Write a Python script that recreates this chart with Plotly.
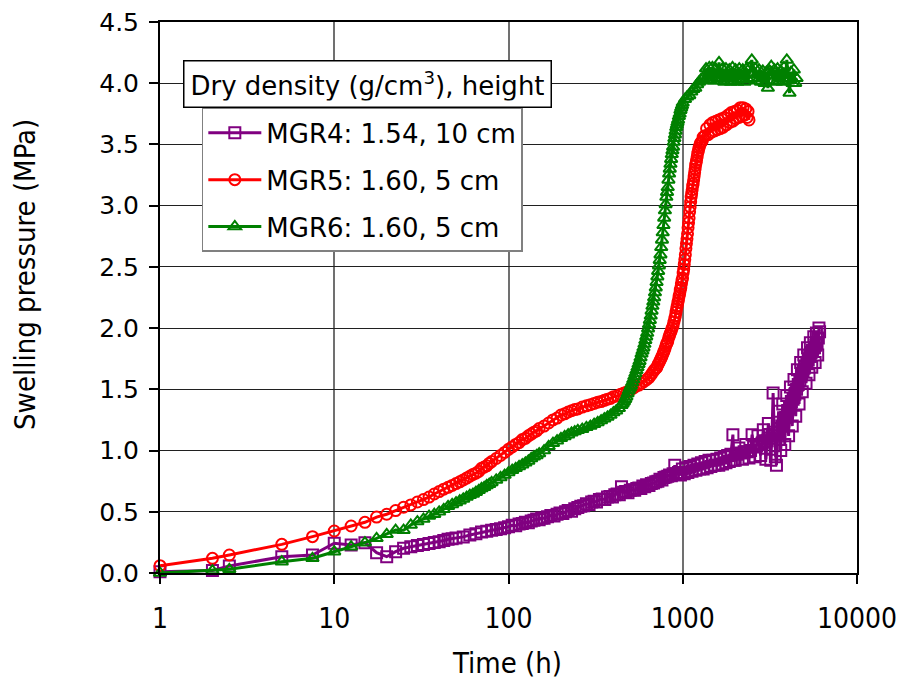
import plotly.graph_objects as go

# MGR4: dry density 1.54 g/cm3, 10 cm sample
mgr4_time = [1, 2, 2.5, 5, 7.5, 10, 12.5, 15, 17.5, 20, 22.5, 25, 27.5, 30, 32.5, 35, 37.5, 40, 42.5, 45,
             47.5, 50, 55, 60, 65, 70, 75, 80, 85, 90, 95,
             100, 105, 110, 115, 120, 125, 130, 135, 140, 145, 150, 155, 160, 167.5, 175, 182.5, 190, 197.5, 205, 212.5,
             220, 230, 240, 250, 260, 270, 280, 290, 300, 310, 320, 332.5, 345, 357.5, 370, 382.5, 395, 407.5, 420, 432.5,
             445, 457.5, 470, 485, 500, 515, 530, 545, 560, 575, 590, 605, 620, 640, 660, 680, 700, 720, 740, 760,
             780, 800, 820, 840, 860, 880, 900, 920, 945,
             970, 995, 1020, 1045, 1070, 1100, 1130, 1160, 1190, 1220, 1250, 1280, 1310, 1345, 1380, 1415, 1450, 1490, 1530, 1570,
             1610, 1650, 1690, 1730, 1770, 1810, 1850, 1890, 1940, 1960,
             2000, 2050, 2100, 2150, 2200, 2250, 2300, 2350, 2400, 2450, 2500, 2550, 2600, 2650, 2700, 2750, 2800, 2850, 2900, 2950,
             3000, 3050, 3100, 3150, 3200, 3250, 3300, 3350, 3400, 3450, 3500, 3550, 3600, 3650, 3700, 3750, 3800, 3850, 3900, 3950,
             4000, 4050, 4100, 4150, 4200, 4250, 4300, 4350, 4400, 4450, 4500, 4550, 4600, 4650, 4700, 4750, 4800, 4850, 4900, 4950,
             5000, 5100, 5150, 5200, 5250, 5300, 5350, 5400, 5450, 5500, 5550, 5650, 5700, 5750, 5800, 5850, 5900, 5950, 6000, 6050,
             6100]
mgr4_pressure = [0.01, 0.02, 0.057, 0.133, 0.147, 0.243, 0.229, 0.248, 0.166, 0.133, 0.174, 0.202, 0.215, 0.225, 0.232, 0.24, 0.25, 0.255, 0.265, 0.275,
                 0.28, 0.285, 0.295, 0.31, 0.32, 0.335, 0.34, 0.35, 0.355, 0.362, 0.37,
                 0.378, 0.39, 0.385, 0.40, 0.405, 0.415, 0.41, 0.425, 0.43, 0.44, 0.435, 0.45, 0.448, 0.46, 0.47, 0.465, 0.48, 0.49, 0.485, 0.50,
                 0.51, 0.505, 0.525, 0.535, 0.545, 0.55, 0.565, 0.56, 0.58, 0.585, 0.58, 0.60, 0.605, 0.60, 0.62, 0.625, 0.62, 0.64, 0.645, 0.64,
                 0.705, 0.66, 0.665, 0.655, 0.675, 0.68, 0.675, 0.69, 0.695, 0.69, 0.71, 0.705, 0.72, 0.715, 0.73, 0.735, 0.745, 0.75, 0.765, 0.76,
                 0.78, 0.785, 0.79, 0.80, 0.795, 0.81, 0.88, 0.81, 0.82,
                 0.80, 0.85, 0.81, 0.86, 0.82, 0.87, 0.83, 0.88, 0.84, 0.89, 0.85, 0.90, 0.85, 0.91, 0.86, 0.92, 0.87, 0.92, 0.88, 0.93,
                 0.88, 0.94, 0.89, 0.95, 0.90, 0.96, 0.91, 0.97, 1.13, 0.92,
                 0.92, 0.97, 1.02, 0.98, 0.93, 0.99, 1.05, 0.99, 0.94, 1.00, 1.13, 1.03, 0.95, 1.04, 1.12, 1.05, 0.96, 1.06, 1.17, 1.07,
                 0.93, 1.08, 1.22, 1.10, 0.92, 1.12, 1.47, 1.15, 0.95, 0.88, 1.15, 1.32, 1.18, 1.00, 1.20, 1.38, 1.24, 1.05, 1.27, 1.45,
                 1.32, 1.12, 1.35, 1.52, 1.40, 1.20, 1.42, 1.58, 1.46, 1.28, 1.50, 1.66, 1.54, 1.38, 1.57, 1.72, 1.62, 1.48, 1.65, 1.78,
                 1.68, 1.55, 1.72, 1.84, 1.74, 1.62, 1.77, 1.88, 1.80, 1.68, 1.82, 1.93, 1.84, 1.72, 1.86, 1.96, 1.88, 1.78, 1.92, 2.00,
                 1.97]

# MGR5: dry density 1.60 g/cm3, 5 cm sample
mgr5_time = [1, 2, 2.5, 5, 7.5, 10, 12.5, 15, 17.5, 20, 22.5, 25, 27.5, 30, 32.5, 35, 37.5, 40, 42.5, 45,
             47.5, 50, 52.5, 55, 57.5, 60, 62.5, 65, 67.5, 70, 72.5, 75, 77.5, 80, 85, 90, 95, 100, 105, 110,
             115, 120, 125, 130, 135, 140, 145, 150, 160, 170, 180, 190, 200, 210, 220, 230, 240, 250, 265, 280,
             295, 310, 325, 340, 355, 370, 385, 400, 420, 440, 460, 480, 500, 520, 540, 560, 580, 600, 620,
             640, 655, 670, 685, 700, 710, 720, 730, 740, 750, 760, 770, 780, 790, 800, 810, 820, 830, 840, 850,
             860, 870, 880, 890, 900, 907.5, 915, 922.5, 930, 937.5, 945, 952.5, 960, 967.5, 975, 982.5, 990, 997.5, 1005, 1012.5,
             1020, 1027.5, 1035, 1042.5, 1050, 1057.5, 1065, 1072.5, 1080, 1087.5, 1095, 1102.5, 1110, 1117.5, 1125, 1132.5, 1140, 1147.5, 1155, 1162.5,
             1170, 1177.5, 1185, 1192.5, 1200, 1210, 1220, 1230, 1240, 1250, 1265, 1280, 1295,
             1310, 1340, 1370, 1400, 1430, 1460, 1490, 1520, 1550, 1580, 1610, 1640, 1670, 1700, 1740, 1780, 1820, 1860, 1900, 1940,
             1980, 2020, 2060, 2100, 2140, 2180, 2220, 2260, 2300, 2340, 2370, 2400]
mgr5_pressure = [0.06, 0.12, 0.147, 0.234, 0.297, 0.343, 0.384, 0.414, 0.457, 0.48, 0.51, 0.537, 0.556, 0.58, 0.60, 0.62, 0.645, 0.665, 0.685, 0.70,
                 0.715, 0.73, 0.745, 0.76, 0.775, 0.79, 0.805, 0.815, 0.83, 0.855, 0.865, 0.875, 0.895, 0.91, 0.935, 0.96, 0.985, 1.01, 1.03, 1.05,
                 1.065, 1.09, 1.10, 1.12, 1.135, 1.15, 1.16, 1.18, 1.20, 1.225, 1.25, 1.265, 1.29, 1.30, 1.315, 1.325, 1.335, 1.34, 1.355, 1.365,
                 1.375, 1.385, 1.395, 1.40, 1.41, 1.42, 1.425, 1.44, 1.445, 1.46, 1.47, 1.48, 1.495, 1.51, 1.525, 1.535, 1.55, 1.565, 1.58,
                 1.595, 1.615, 1.635, 1.655, 1.67, 1.68, 1.70, 1.715, 1.735, 1.75, 1.77, 1.79, 1.81, 1.83, 1.855, 1.875, 1.89, 1.92, 1.94, 1.96,
                 1.98, 2.00, 2.02, 2.05, 2.08, 2.10, 2.13, 2.16, 2.18, 2.21, 2.23, 2.26, 2.28, 2.31, 2.33, 2.36, 2.39, 2.41, 2.45, 2.48,
                 2.52, 2.56, 2.60, 2.65, 2.69, 2.73, 2.77, 2.82, 2.86, 2.90, 2.95, 2.99, 3.03, 3.07, 3.10, 3.13, 3.16, 3.18, 3.21, 3.24,
                 3.27, 3.30, 3.33, 3.35, 3.37, 3.40, 3.43, 3.45, 3.47, 3.49, 3.51, 3.52, 3.53,
                 3.56, 3.57, 3.63, 3.58, 3.66, 3.60, 3.68, 3.61, 3.69, 3.62, 3.70, 3.63, 3.71, 3.64, 3.72, 3.66, 3.74, 3.68, 3.76, 3.69,
                 3.77, 3.71, 3.78, 3.72, 3.80, 3.73, 3.80, 3.74, 3.79, 3.72, 3.77, 3.70]

# MGR6: dry density 1.60 g/cm3, 5 cm sample
mgr6_time = [1, 2, 2.5, 5, 7.5, 10, 12.5, 15, 17.5, 20, 22.5, 25, 27.5, 30, 32.5, 35, 37.5, 40, 42.5, 45,
             47.5, 50, 52.5, 55, 57.5, 60, 62.5, 65, 67.5, 70, 72.5, 75, 77.5, 80, 85, 90, 95, 100, 105, 110,
             115, 120, 125, 130, 135, 140, 145, 150, 160, 170, 180, 190, 200, 210, 220, 230, 240, 250, 265, 280,
             295, 310, 325, 340, 355, 370, 385, 400, 415, 430,
             445, 452.5, 460, 467.5, 475, 482.5, 490, 497.5, 505, 512.5, 520, 527.5, 535, 542.5, 550, 557.5, 565, 572.5, 580, 587.5,
             595, 602.5, 610, 617.5, 625, 632.5, 640, 647.5, 655, 662.5, 670, 677.5, 685, 692.5, 700, 707.5, 715, 722.5, 730, 737.5,
             745, 752.5, 760, 767.5, 775, 782.5, 790, 797.5, 805, 812.5, 820, 827.5, 835, 842.5, 850, 857.5, 865, 872.5, 880, 887.5,
             895, 902.5, 910, 917.5, 925, 932.5, 940, 950, 960, 970, 980, 990, 1000,
             1030, 1060, 1090, 1120, 1150, 1180, 1210, 1240, 1270, 1300, 1330, 1360, 1390, 1420, 1450, 1480, 1510, 1545, 1580, 1615,
             1650, 1690, 1730, 1770, 1810, 1850, 1890, 1930, 1970, 2010, 2060, 2110, 2160, 2210, 2260, 2320, 2380, 2440, 2490, 2550,
             2610, 2670, 2740, 2810, 2880, 2950, 3020, 3080, 3150, 3220, 3290, 3360, 3430, 3500, 3570, 3650, 3730, 3810, 3890, 3955,
             4030, 4100, 4180, 4260, 4340, 4420, 4500]
mgr6_pressure = [0.0, 0.02, 0.03, 0.092, 0.12, 0.174, 0.215, 0.248, 0.283, 0.316, 0.351, 0.35, 0.392, 0.42, 0.44, 0.465, 0.48, 0.50, 0.52, 0.545,
                 0.56, 0.575, 0.59, 0.605, 0.62, 0.635, 0.645, 0.66, 0.675, 0.69, 0.70, 0.715, 0.725, 0.74, 0.76, 0.78, 0.80, 0.82, 0.84, 0.855,
                 0.87, 0.885, 0.90, 0.915, 0.935, 0.95, 0.96, 0.975, 1.00, 1.035, 1.06, 1.08, 1.10, 1.115, 1.13, 1.145, 1.155, 1.165, 1.175, 1.19,
                 1.20, 1.215, 1.23, 1.245, 1.26, 1.275, 1.29, 1.31, 1.325, 1.345,
                 1.37, 1.385, 1.40, 1.42, 1.44, 1.465, 1.49, 1.51, 1.53, 1.555, 1.58, 1.605, 1.63, 1.655, 1.68, 1.705, 1.73, 1.76, 1.79, 1.815,
                 1.84, 1.87, 1.90, 1.93, 1.96, 1.995, 2.03, 2.065, 2.10, 2.14, 2.18, 2.215, 2.25, 2.29, 2.33, 2.375, 2.42, 2.465, 2.51, 2.555,
                 2.60, 2.66, 2.72, 2.78, 2.84, 2.90, 2.96, 3.01, 3.07, 3.11, 3.15, 3.21, 3.26, 3.30, 3.34, 3.38, 3.42, 3.45, 3.48, 3.52,
                 3.55, 3.58, 3.61, 3.64, 3.66, 3.68, 3.70, 3.73, 3.75, 3.78, 3.80, 3.82, 3.84,
                 3.87, 3.89, 3.90, 3.93, 3.95, 3.96, 3.99, 4.01, 4.03, 4.04, 4.06, 4.12, 4.02, 4.13, 4.03, 4.13, 4.02, 4.12, 4.04, 4.17,
                 4.02, 4.12, 4.01, 4.12, 4.02, 4.11, 4.01, 4.13, 4.02, 4.11, 4.01, 4.12, 4.03, 4.11, 4.01, 4.12, 4.03, 4.13, 4.19, 4.04,
                 4.12, 4.02, 4.11, 4.01, 4.10, 4.00, 4.09, 3.96, 4.10, 4.14, 4.02, 4.11, 4.01, 4.12, 4.02, 4.10, 4.01, 4.13, 4.04, 4.19,
                 4.02, 3.92, 4.09, 4.00, 4.11, 4.00, 4.04]

series_names = ["MGR4: 1.54, 10 cm", "MGR5: 1.60, 5 cm", "MGR6: 1.60, 5 cm"]
series_colors = ["#800080", "#ff0000", "#008000"]
series_symbols = ["square-open", "circle-open", "triangle-up-open"]
series_data = [(mgr4_time, mgr4_pressure), (mgr5_time, mgr5_pressure), (mgr6_time, mgr6_pressure)]

x_ticks = [1, 10, 100, 1000, 10000]
x_ticklabels = ["1", "10", "100", "1000", "10000"]
legend_title = "Dry density (g/cm<sup>3</sup>), height"
x_title = "Time (h)"
y_title = "Swelling pressure (MPa)"

wide_font = "DejaVu Sans"
narrow_font = "Liberation Sans Narrow, DejaVu Sans Condensed, Arial Narrow, sans-serif"

fig = go.Figure()
for i, ((t, p), name, col, sym) in enumerate(zip(series_data, series_names, series_colors, series_symbols)):
    fig.add_trace(go.Scatter(
        x=t, y=p, name=name, mode="lines+markers",
        line=dict(color=col, width=3),
        marker=dict(symbol=sym, size=11, color=col, line=dict(width=2, color=col)),
        cliponaxis=False, legendgroup=f"g{i}",
    ))

fig.update_layout(
    width=900, height=680,
    margin=dict(l=160, r=43, t=22, b=107, autoexpand=False),
    paper_bgcolor="white", plot_bgcolor="white",
    showlegend=True,
    legend=dict(
        x=0.060, y=0.844, xanchor="left", yanchor="top",
        bgcolor="white", bordercolor="#808080", borderwidth=1.5,
        font=dict(family=wide_font, size=26, color="black"),
        tracegroupgap=10, itemwidth=53,
    ),
    annotations=[
        dict(text=legend_title, xref="paper", yref="paper",
             x=0.033, y=0.931, xanchor="left", yanchor="top",
             showarrow=False, font=dict(family=wide_font, size=26, color="black"),
             width=354, height=33, align="center",
             bgcolor="white", bordercolor="black", borderwidth=1.5, borderpad=6),
        dict(text=x_title, xref="paper", yref="paper",
             x=0.498, y=-0.1633, xanchor="center", yanchor="middle",
             showarrow=False, font=dict(family=narrow_font, size=29, color="black")),
        dict(text=y_title, xref="paper", yref="paper",
             x=-0.1937, y=0.5426, xanchor="center", yanchor="middle", textangle=-90,
             showarrow=False, font=dict(family=narrow_font, size=29, color="black")),
    ],
)

fig.update_xaxes(
    type="log", range=[0, 4], automargin=False,
    tickvals=x_ticks, ticktext=x_ticklabels,
    ticks="outside", ticklen=9, tickwidth=1.5, tickcolor="black",
    showline=True, linecolor="black", linewidth=2, mirror=True,
    showgrid=True, gridcolor="#707070", gridwidth=1.5,
    tickfont=dict(family=narrow_font, size=28, color="black"),
    ticklabelstandoff=10,
    zeroline=False,
)
fig.update_yaxes(
    range=[0, 4.5], dtick=0.5, tick0=0, tickformat=".1f", automargin=False,
    ticks="outside", ticklen=9, tickwidth=1.5, tickcolor="black",
    showline=True, linecolor="black", linewidth=2, mirror=True,
    showgrid=True, gridcolor="#202020", gridwidth=1,
    tickfont=dict(family=wide_font, size=25, color="black"),
    ticklabelstandoff=5,
    zeroline=False,
)

fig.write_html("out.html")
